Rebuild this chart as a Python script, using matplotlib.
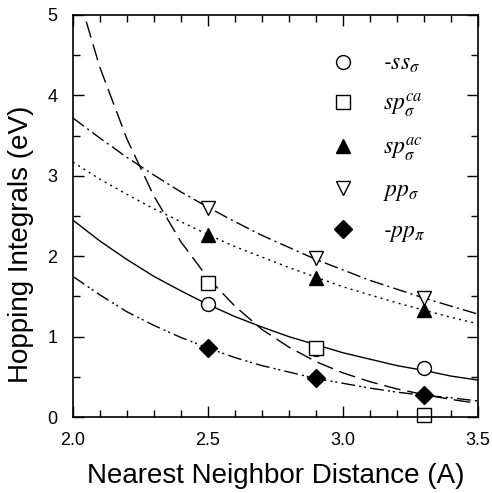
import numpy as np
import matplotlib
matplotlib.use("Agg")
import matplotlib.pyplot as plt
from matplotlib.lines import Line2D
from matplotlib.ticker import MultipleLocator

# measured hopping integrals (eV) vs nearest neighbour distance (A)
d_pts = [2.5, 2.9, 3.3]
ss_sigma = [1.40, 0.85, 0.61]
sp_ca = [1.67, 0.86, 0.03]
sp_ac = [2.26, 1.73, 1.33]
pp_sigma = [2.60, 1.98, 1.48]
pp_pi = [0.86, 0.49, 0.27]

# fitted curves, every 0.1 A
d_fit = [2.0, 2.1, 2.2, 2.3, 2.4, 2.5, 2.6, 2.7, 2.8, 2.9, 3.0, 3.1, 3.2, 3.3, 3.4, 3.5]
ss_fit = [2.45, 2.19, 1.96, 1.75, 1.57, 1.40, 1.25, 1.12, 1.00, 0.90, 0.80, 0.72, 0.64, 0.58, 0.51, 0.46]
ca_fit = [5.48, 4.35, 3.46, 2.75, 2.18, 1.73, 1.38, 1.09, 0.87, 0.69, 0.55, 0.44, 0.35, 0.28, 0.22, 0.17]
ac_fit = [3.17, 2.96, 2.77, 2.59, 2.43, 2.27, 2.12, 1.99, 1.86, 1.74, 1.62, 1.52, 1.42, 1.33, 1.24, 1.16]
pps_fit = [3.72, 3.47, 3.23, 3.01, 2.80, 2.61, 2.43, 2.26, 2.11, 1.96, 1.83, 1.70, 1.59, 1.48, 1.38, 1.28]
ppp_fit = [1.75, 1.52, 1.31, 1.14, 0.99, 0.86, 0.74, 0.64, 0.56, 0.48, 0.42, 0.36, 0.31, 0.27, 0.24, 0.20]

plt.rcParams['font.family'] = ['Liberation Sans', 'DejaVu Sans']
plt.rcParams['mathtext.fontset'] = 'stix'

fig = plt.figure(figsize=(4.92, 4.93), dpi=100)
ax = fig.add_axes([0.148, 0.154, 0.8235, 0.8156])

lw = 1.0
ax.plot(d_fit, ss_fit, color='k', lw=lw, linestyle='-')
ax.plot(d_fit, ca_fit, color='k', lw=lw, linestyle=(0, (12, 5)))
ax.plot(d_fit, ac_fit, color='k', lw=lw, linestyle=(0, (1.5, 3)))
ax.plot(d_fit, pps_fit, color='k', lw=lw, linestyle=(0, (10, 3, 1.5, 3)))
ax.plot(d_fit, ppp_fit, color='k', lw=lw, linestyle=(0, (10, 3, 1.5, 2, 1.5, 3)))

ms = 10
mk = dict(linestyle='none', markeredgecolor='k', markeredgewidth=1.0, clip_on=False)
ax.plot(d_pts, ss_sigma, marker='o', markersize=ms, markerfacecolor='white', **mk)
ax.plot(d_pts, sp_ca, marker='s', markersize=ms - 0.5, markerfacecolor='white', **mk)
ax.plot(d_pts, sp_ac, marker='^', markersize=ms, markerfacecolor='black', **mk)
ax.plot(d_pts, pp_sigma, marker='v', markersize=ms, markerfacecolor='white', **mk)
ax.plot(d_pts, pp_pi, marker='D', markersize=ms - 1, markerfacecolor='black', **mk)

ax.set_xlim(2.0, 3.5)
ax.set_ylim(0, 5)
ax.xaxis.set_major_locator(MultipleLocator(0.5))
ax.xaxis.set_minor_locator(MultipleLocator(0.1))
ax.yaxis.set_major_locator(MultipleLocator(1))
ax.yaxis.set_minor_locator(MultipleLocator(0.5))
ax.xaxis.set_major_formatter(matplotlib.ticker.FormatStrFormatter('%.1f'))
ax.tick_params(which='both', direction='in', top=True, right=True, width=1.0)
ax.tick_params(which='major', length=8, labelsize=13)
ax.tick_params(axis='x', which='major', pad=11)
ax.tick_params(axis='y', which='major', pad=11)
ax.tick_params(which='minor', length=5)
for s in ax.spines.values():
    s.set_linewidth(1.2)

ax.set_xlabel('Nearest Neighbor Distance (A)', fontsize=20, labelpad=10)
ax.set_ylabel('Hopping Integrals (eV)', fontsize=20)
ax.yaxis.set_label_coords(-0.097, 0.43)

handles = [
    Line2D([], [], marker='o', markersize=ms, markerfacecolor='white', **mk),
    Line2D([], [], marker='s', markersize=ms - 0.5, markerfacecolor='white', **mk),
    Line2D([], [], marker='^', markersize=ms, markerfacecolor='black', **mk),
    Line2D([], [], marker='v', markersize=ms, markerfacecolor='white', **mk),
    Line2D([], [], marker='D', markersize=ms - 1, markerfacecolor='black', **mk),
]
labels = [r'-$ss_{\sigma}$', r'$sp_{\sigma}^{ca}$', r'$sp_{\sigma}^{ac}$',
          r'$pp_{\sigma}$', r'-$pp_{\pi}$']
leg = ax.legend(handles, labels, loc='upper left', bbox_to_anchor=(0.585, 0.96),
                frameon=False, handlelength=1.0, handletextpad=1.2,
                labelspacing=0.68, prop={'family': 'STIXGeneral', 'style': 'italic', 'size': 17})

fig.savefig('out.png', dpi=100)
